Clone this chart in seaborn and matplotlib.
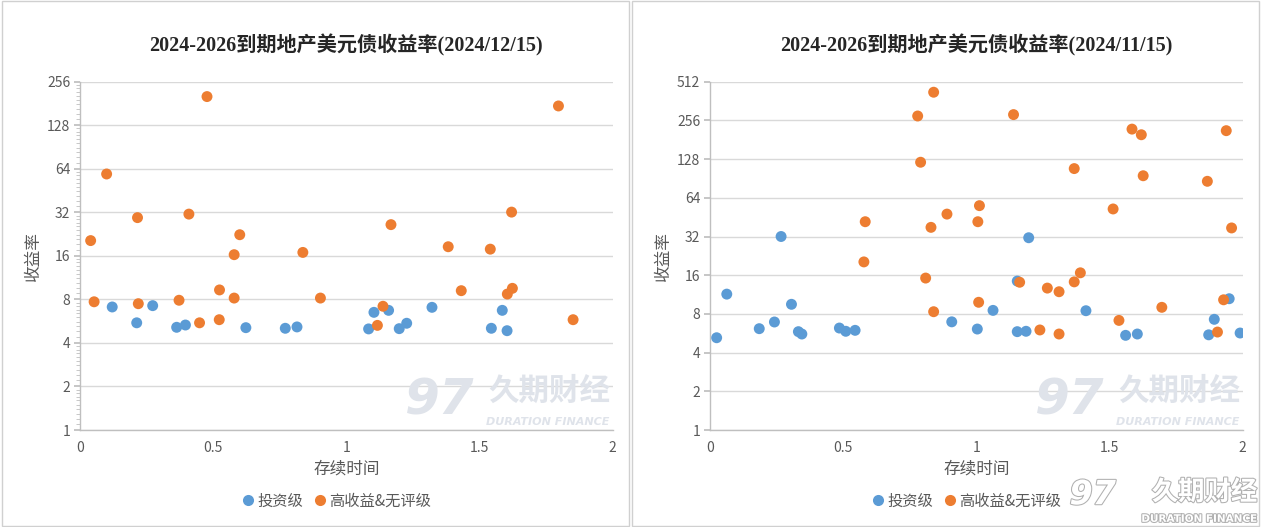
import numpy as np
import pandas as pd
import matplotlib
matplotlib.use("Agg")
import matplotlib.pyplot as plt
import matplotlib.ticker as mticker
import matplotlib.patheffects as pe
from matplotlib.patches import Rectangle
from matplotlib.lines import Line2D
import seaborn as sns

# ---------------- data ----------------
series_names = ["投资级", "高收益&无评级"]

# Left chart (2024/12/15)
left_ig_x = [0.121, 0.213, 0.273, 0.363, 0.396, 0.623, 0.771, 0.815, 1.084, 1.104,
             1.159, 1.199, 1.227, 1.322, 1.545, 1.586, 1.604]
left_ig_y = [7.09, 5.51, 7.24, 5.13, 5.32, 5.10, 5.05, 5.16, 5.00, 6.51,
             6.72, 5.02, 5.47, 7.05, 5.05, 6.72, 4.86]
left_hy_x = [0.040, 0.053, 0.100, 0.216, 0.219, 0.372, 0.409, 0.449, 0.477, 0.523,
             0.524, 0.579, 0.579, 0.600, 0.837, 0.903, 1.117, 1.138, 1.168, 1.383,
             1.432, 1.541, 1.605, 1.621, 1.624, 1.797, 1.852]
left_hy_y = [20.4, 7.7, 58.9, 29.4, 7.47, 7.89, 31.1, 5.51, 202, 5.79,
             9.3, 16.3, 8.17, 22.4, 16.9, 8.17, 5.29, 7.17, 26.3, 18.5,
             9.19, 17.8, 8.71, 32.1, 9.54, 174, 5.79]

# Right chart (2024/11/15)
right_ig_x = [0.025, 0.063, 0.185, 0.242, 0.267, 0.306, 0.332, 0.345, 0.486, 0.510,
              0.545, 0.908, 1.004, 1.063, 1.154, 1.154, 1.187, 1.197, 1.412, 1.561,
              1.605, 1.873, 1.894, 1.950, 1.991]
right_ig_y = [5.22, 11.4, 6.14, 6.92, 32.0, 9.5, 5.82, 5.58, 6.21, 5.86,
              5.96, 6.94, 6.10, 8.52, 14.4, 5.82, 5.86, 31.3, 8.47, 5.45,
              5.58, 5.50, 7.26, 10.5, 5.68]
right_hy_x = [0.578, 0.583, 0.780, 0.791, 0.810, 0.830, 0.840, 0.840, 0.890, 1.006,
              1.012, 1.009, 1.140, 1.163, 1.239, 1.267, 1.311, 1.311, 1.368, 1.368,
              1.391, 1.514, 1.536, 1.585, 1.620, 1.627, 1.697, 1.868, 1.906, 1.929,
              1.939, 1.959]
right_hy_y = [20.3, 41.7, 277, 121, 15.2, 37.7, 424, 8.32, 47.8, 41.7,
              55.6, 9.85, 284, 14.1, 6.0, 12.7, 11.9, 5.58, 108, 14.2,
              16.7, 52.4, 7.12, 219, 198, 95, 9.0, 86, 5.78, 10.3,
              213, 37.3]

titles = ["2024-2026到期地产美元债收益率(2024/12/15)",
          "2024-2026到期地产美元债收益率(2024/11/15)"]
x_label = "存续时间"
y_label = "收益率"
x_ticks = [0, 0.5, 1, 1.5, 2]
x_tick_labels = ["0", "0.5", "1", "1.5", "2"]
left_y_ticks = [1, 2, 4, 8, 16, 32, 64, 128, 256]
right_y_ticks = [1, 2, 4, 8, 16, 32, 64, 128, 256, 512]

colors = {"投资级": "#5B9BD5", "高收益&无评级": "#ED7D31"}

# ---------------- style ----------------
sns.set_theme(style="white")
plt.rcParams["font.family"] = ["Noto Sans CJK SC", "DejaVu Sans"]
plt.rcParams["axes.unicode_minus"] = False

fig = plt.figure(figsize=(12.61, 5.27), dpi=100)

# panel borders
for x0 in (0.0015, 0.5015):
    fig.patches.append(Rectangle((x0, 0.002), 0.497, 0.996, transform=fig.transFigure,
                                 fill=False, edgecolor="#d0d0d0", linewidth=1.0))

def make_df(igx, igy, hyx, hyy):
    return pd.DataFrame({
        "x": list(igx) + list(hyx),
        "y": list(igy) + list(hyy),
        "series": [series_names[0]] * len(igx) + [series_names[1]] * len(hyx),
    })

panels = [
    (make_df(left_ig_x, left_ig_y, left_hy_x, left_hy_y), 80, left_y_ticks, titles[0]),
    (make_df(right_ig_x, right_ig_y, right_hy_x, right_hy_y), 710, right_y_ticks, titles[1]),
]

W, H = 1261, 527
for df, left_px, yticks, title in panels:
    ax = fig.add_axes([left_px / W, (H - 430) / H, 532.5 / W, 348.3 / H])
    sns.scatterplot(data=df, x="x", y="y", hue="series", palette=colors,
                    hue_order=series_names, s=62, edgecolor="none", ax=ax,
                    legend=False, zorder=3)
    ax.set_yscale("log", base=2)
    ax.set_ylim(yticks[0], yticks[-1])
    ax.set_xlim(0, 2)
    ax.set_yticks(yticks)
    ax.yaxis.set_major_formatter(mticker.FuncFormatter(lambda v, p: f"{int(round(v))}"))
    ax.yaxis.set_minor_locator(mticker.LogLocator(base=2, subs=np.linspace(1, 2, 11)[1:-1]))
    ax.yaxis.set_minor_formatter(mticker.NullFormatter())
    ax.set_xticks(x_ticks)
    ax.set_xticklabels(x_tick_labels)
    ax.grid(axis="y", which="major", color="#d9d9d9", linewidth=1.0, zorder=0)
    ax.grid(axis="x", visible=False)
    for s in ("top", "right"):
        ax.spines[s].set_visible(False)
    for s in ("left", "bottom"):
        ax.spines[s].set_color("#bfbfbf")
        ax.spines[s].set_linewidth(1.0)
    ax.tick_params(axis="y", which="major", length=4, color="#bfbfbf", labelsize=10,
                   labelcolor="#595959", pad=3, left=True)
    ax.tick_params(axis="y", which="minor", length=3, color="#bfbfbf", width=0.6, left=True)
    ax.tick_params(axis="x", length=0, labelsize=10, labelcolor="#595959", pad=8)
    ax.set_xlabel(x_label, fontsize=12, color="#595959", labelpad=4)
    ax.set_ylabel(y_label, fontsize=12, color="#595959", labelpad=4)
    ax.set_title(title, fontsize=14.5, fontweight="bold", color="#262626", pad=22,
                 family=["Liberation Serif", "Noto Sans CJK SC"])

    # watermark inside plot area
    wm = "#dfe3ea"
    ax.text(0.74, 0.015, "97", transform=ax.transAxes, fontsize=36, fontweight="bold",
            style="italic", color=wm, ha="right", va="bottom", zorder=1,
            family="DejaVu Sans")
    ax.text(0.995, 0.065, "久期财经", transform=ax.transAxes, fontsize=22,
            color=wm, ha="right", va="bottom", zorder=1, fontweight="bold")
    ax.text(0.995, 0.008, "DURATION FINANCE", transform=ax.transAxes, fontsize=8,
            style="italic", color=wm, ha="right", va="bottom", zorder=1,
            family="DejaVu Sans", fontweight="bold")

    handles = [Line2D([0], [0], marker="o", linestyle="none", markersize=8,
                      markerfacecolor=colors[n], markeredgecolor="none", label=n)
               for n in series_names]
    leg = ax.legend(handles=handles, loc="upper center", bbox_to_anchor=(0.48, -0.14),
                    ncol=2, frameon=False, fontsize=11, handletextpad=0.1,
                    columnspacing=0.6, handlelength=1.0)
    for t in leg.get_texts():
        t.set_color("#595959")

# bottom-right corner watermark
stroke = [pe.withStroke(linewidth=1.5, foreground="#b0b0b0")]
fig.text(0.885, 0.03, "97", fontsize=24, fontweight="bold", style="italic",
         color="white", path_effects=stroke, ha="right", va="bottom", family="DejaVu Sans")
fig.text(0.997, 0.04, "久期财经", fontsize=19, color="white", path_effects=stroke,
         ha="right", va="bottom", fontweight="bold")
fig.text(0.997, 0.006, "DURATION FINANCE", fontsize=7.5, color="white", path_effects=stroke,
         ha="right", va="bottom", family="DejaVu Sans", fontweight="bold")

fig.savefig("out.png", dpi=100)
